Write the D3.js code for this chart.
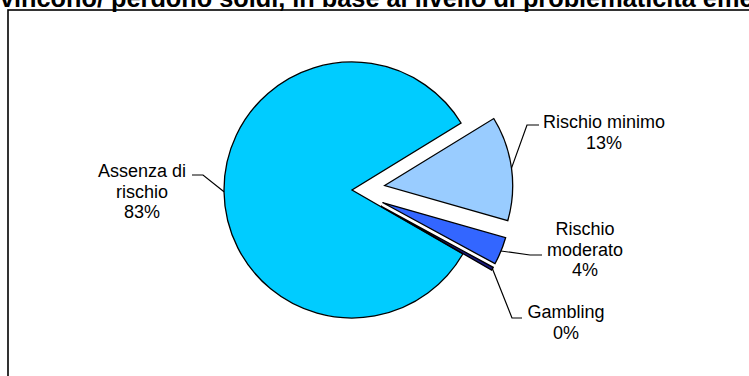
<!DOCTYPE html>
<html>
<head>
<meta charset="utf-8">
<script src="https://cdn.jsdelivr.net/npm/d3@7"></script>
<style>
  html, body { margin: 0; padding: 0; background: #fff; }
  svg { display: block; font-family: "Liberation Sans", Arial, sans-serif; }
</style>
</head>
<body>
<svg id="chart" width="749" height="376"></svg>
<script>
// Share of players by level of problem gambling
const categories = ["Assenza di rischio", "Rischio minimo", "Rischio moderato", "Gambling"];
const labelLines = [["Assenza di", "rischio"], ["Rischio minimo"], ["Rischio", "moderato"], ["Gambling"]];
const shares = [82.9, 13.2, 3.5, 0.4];
const colors = ["#00CCFF", "#99CCFF", "#3366FF", "#1A1A80"];
const exploded = [false, true, true, true];

const titleText = "vincono/ perdono soldi, in base al livello di problematicità emersa";

// Label placement: text centre x, first baseline y, and the leader's knee / end points
const labelLayout = [
  { cx: 142, y: 177, knee: [203, 175], end: [192, 175] },
  { cx: 604, y: 128, knee: [527, 125], end: [539, 125] },
  { cx: 585, y: 235, knee: [530, 255], end: [542, 255] },
  { cx: 566, y: 318, knee: [512, 318], end: [522, 318] }
];

const width = 749, height = 376;
const cx = 352, cy = 190, radius = 128, explodeDist = 33;
const lineGap = 20.5;

const svg = d3.select("#chart");

// Title (runs past the top and right edge of the frame area)
svg.append("text")
  .attr("x", 0).attr("y", 7)
  .attr("font-size", 25.3).attr("font-weight", "bold")
  .attr("fill", "#000")
  .text(titleText);

// Chart frame
svg.append("rect")
  .attr("x", 8).attr("y", 10)
  .attr("width", 800).attr("height", 420)
  .attr("fill", "none").attr("stroke", "#000").attr("stroke-width", 1.6);

const pie = d3.pie()
  .sort(null)
  .value(d => d)
  .startAngle(120 * Math.PI / 180)
  .endAngle(480 * Math.PI / 180);

const arcs = pie(shares);
const arcGen = d3.arc().innerRadius(0).outerRadius(radius);

function offsetOf(a, i) {
  if (!exploded[i]) return [0, 0];
  const mid = (a.startAngle + a.endAngle) / 2;
  return [Math.sin(mid) * explodeDist, -Math.cos(mid) * explodeDist];
}

const g = svg.append("g").attr("transform", `translate(${cx},${cy})`);

g.selectAll("path.slice")
  .data(arcs)
  .join("path")
  .attr("class", "slice")
  .attr("transform", (a, i) => { const o = offsetOf(a, i); return `translate(${o[0]},${o[1]})`; })
  .attr("d", arcGen)
  .attr("fill", (a, i) => colors[i])
  .attr("stroke", "#000")
  .attr("stroke-width", 1.3)
  .attr("stroke-linejoin", "miter");

// Leader lines and labels
arcs.forEach((a, i) => {
  const o = offsetOf(a, i);
  const mid = (a.startAngle + a.endAngle) / 2;
  const edge = [cx + o[0] + Math.sin(mid) * radius, cy + o[1] - Math.cos(mid) * radius];
  const L = labelLayout[i];

  svg.append("polyline")
    .attr("points", [edge, L.knee, L.end].map(p => p.join(",")).join(" "))
    .attr("fill", "none").attr("stroke", "#000").attr("stroke-width", 1.2);

  const lines = labelLines[i].concat([Math.round(shares[i]) + "%"]);
  const t = svg.append("text")
    .attr("text-anchor", "middle")
    .attr("font-size", 18)
    .attr("fill", "#000");
  lines.forEach((s, k) => {
    t.append("tspan").attr("x", L.cx).attr("y", L.y + k * lineGap).text(s);
  });
});
</script>
</body>
</html>
